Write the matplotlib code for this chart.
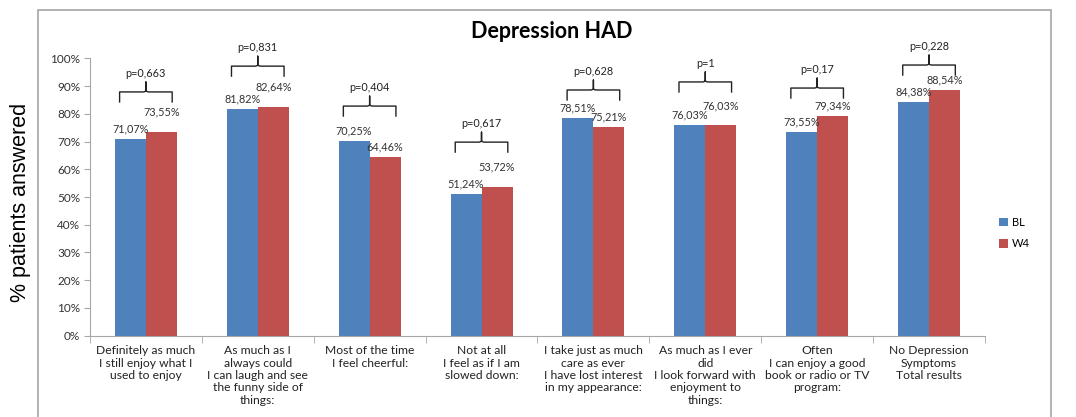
import numpy as np
import matplotlib.pyplot as plt
from matplotlib.patches import Rectangle

categories = [
    "Definitely as much\nI still enjoy what I\nused to enjoy",
    "As much as I\nalways could\nI can laugh and see\nthe funny side of\nthings:",
    "Most of the time\nI feel cheerful:",
    "Not at all\nI feel as if I am\nslowed down:",
    "I take just as much\ncare as ever\nI have lost interest\nin my appearance:",
    "As much as I ever\ndid\nI look forward with\nenjoyment to\nthings:",
    "Often\nI can enjoy a good\nbook or radio or TV\nprogram:",
    "No Depression\nSymptoms\nTotal results",
]
bl = [71.07, 81.82, 70.25, 51.24, 78.51, 76.03, 73.55, 84.38]
w4 = [73.55, 82.64, 64.46, 53.72, 75.21, 76.03, 79.34, 88.54]
p_values = ["p=0,663", "p=0,831", "p=0,404", "p=0,617", "p=0,628", "p=1", "p=0,17", "p=0,228"]
brace_y = [87.9, 97.2, 82.8, 69.8, 88.6, 91.5, 89.3, 97.6]

blue = "#4F81BD"
red = "#C0504D"
font = "Lato"

fig = plt.figure(figsize=(10.76, 4.17), dpi=100)
fig.patches.append(Rectangle((0.0353, -0.05), 0.9415, 1.026, transform=fig.transFigure,
                             fill=False, edgecolor="#A6A6A6", lw=1.2))
ax = fig.add_axes([0.0836, 0.195, 0.8318, 0.665])

x = np.arange(len(categories))
w = 0.277
ax.bar(x - w / 2, bl, w, color=blue, label="BL")
ax.bar(x + w / 2, w4, w, color=red, label="W4")

def fmt(v):
    return f"{v:.2f}%".replace(".", ",")

for i in range(len(x)):
    ax.text(x[i] - w / 2, bl[i] + 1.6, fmt(bl[i]), ha="center", va="bottom",
            fontsize=7.8, family=font, color="#333333")
    diff = w4[i] - bl[i]
    off = 5.0 if 0 <= diff < 3 else 1.6
    ax.text(x[i] + w / 2, w4[i] + off, fmt(w4[i]), ha="center", va="bottom",
            fontsize=7.8, family=font, color="#333333")
    # brace
    y = brace_y[i]
    h = 3.6
    x0, x1 = x[i] - 0.235, x[i] + 0.235
    bx = [x0, x0, x[i] - 0.02, x[i], x[i], x[i], x[i] + 0.02, x1, x1]
    by = [y - h, y, y, y + 0.3, y + h, y + 0.3, y, y, y - h]
    ax.plot(bx, by, color="#222222", lw=1.0, clip_on=False)
    ax.text(x[i], y + h + 1.0, p_values[i], ha="center", va="bottom",
            fontsize=7.8, family=font, color="#222222")

ax.set_xlim(-0.5, len(categories) - 0.5)
ax.set_ylim(0, 100)
ax.set_yticks(np.arange(0, 101, 10))
ax.set_yticklabels([f"{v}%" for v in range(0, 101, 10)], fontsize=8.5, family=font, color="#333333")
ax.set_xticks(x)
ax.set_xticklabels(categories, fontsize=8.7, family=font, color="#222222", linespacing=1.15)
ax.set_xticks(np.arange(-0.5, len(categories)), minor=True)
ax.tick_params(axis="x", which="major", length=0, pad=7)
ax.tick_params(axis="x", which="minor", length=5, color="#A6A6A6")
ax.tick_params(axis="y", length=4, color="#A6A6A6", pad=3)
for s in ["top", "right"]:
    ax.spines[s].set_visible(False)
for s in ["left", "bottom"]:
    ax.spines[s].set_color("#A6A6A6")

ax.set_ylabel("% patients answered", fontsize=15.5, family="Liberation Sans")
ax.yaxis.set_label_coords(-0.066, 0.48)
fig.text(0.513, 0.925, "Depression HAD", ha="center", va="center", fontsize=15.5,
         fontweight="bold", family=font)

leg = ax.legend(loc="center left", bbox_to_anchor=(1.005, 0.37), frameon=False,
                prop={"family": font, "size": 8}, handlelength=0.8, handleheight=0.8,
                handletextpad=0.3, labelspacing=0.95)

fig.savefig("out.png", dpi=100)
